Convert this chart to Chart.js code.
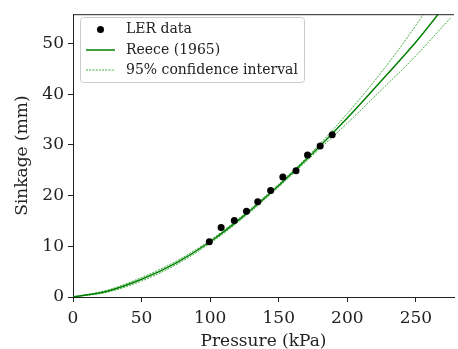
<!DOCTYPE html>
<html>
<head>
<meta charset="utf-8">
<script src="https://cdn.jsdelivr.net/npm/chart.js@4/dist/chart.umd.min.js"></script>
<style>
html,body{margin:0;padding:0;background:#fff;}
#wrap{width:458px;height:349px;position:relative;}
</style>
</head>
<body>
<div id="wrap"><canvas id="c" width="458" height="349"></canvas></div>
<script>
// Measured data (LER)
const lerPressure = [99.4, 108.0, 117.6, 126.5, 134.7, 144.1, 153.0, 162.6, 171.0, 180.2, 189.0];
const lerSinkage  = [10.9, 13.7, 15.1, 16.9, 18.8, 21.0, 23.7, 24.9, 28.0, 29.8, 32.0];

// Reece (1965) fitted curve and 95% band
const curvePressure = [0, 25, 50, 75, 100, 125, 150, 175, 200, 225, 250, 275];
const reeceSinkage  = [0, 1.15, 3.5, 6.7, 10.9, 16.1, 22.0, 28.4, 35.3, 42.7, 50.3, 58.8];
const upperSinkage  = [0, 1.35, 3.85, 7.05, 11.2, 16.4, 22.3, 28.8, 36.2, 44.4, 53.6, 64.0];
const lowerSinkage  = [0, 0.95, 3.15, 6.35, 10.6, 15.8, 21.7, 28.0, 34.3, 40.9, 47.6, 55.0];

const xTicks = [0, 50, 100, 150, 200, 250];
const yTicks = [0, 10, 20, 30, 40, 50];
const xLimits = [0, 277.8];
const yLimits = [0, 55.8];

const labels = ['LER data', 'Reece (1965)', '95% confidence interval'];

const pts = (xs, ys) => xs.map((x, i) => ({x: x, y: ys[i]}));

const FONT = "'DejaVu Serif', serif";
const GREEN = '#008000';
const CI = 'rgba(45,165,45,0.9)';

const topSpine = {
  id: 'topSpine',
  afterDraw(chart) {
    const {ctx, chartArea: a} = chart;
    ctx.save();
    ctx.strokeStyle = '#222';
    ctx.lineWidth = 1;
    ctx.beginPath();
    ctx.moveTo(a.left, a.top + 0.5);
    ctx.lineTo(a.right, a.top + 0.5);
    ctx.stroke();
    ctx.restore();
  }
};

const innerLegend = {
  id: 'innerLegend',
  afterDraw(chart) {
    const ctx = chart.ctx;
    const x0 = 80.5, y0 = 17.5, w = 224, h = 65, r = 3;
    ctx.save();
    ctx.fillStyle = 'rgba(255,255,255,0.8)';
    ctx.strokeStyle = '#cccccc';
    ctx.lineWidth = 1;
    ctx.beginPath();
    ctx.moveTo(x0 + r, y0);
    ctx.lineTo(x0 + w - r, y0);
    ctx.arcTo(x0 + w, y0, x0 + w, y0 + r, r);
    ctx.lineTo(x0 + w, y0 + h - r);
    ctx.arcTo(x0 + w, y0 + h, x0 + w - r, y0 + h, r);
    ctx.lineTo(x0 + r, y0 + h);
    ctx.arcTo(x0, y0 + h, x0, y0 + h - r, r);
    ctx.lineTo(x0, y0 + r);
    ctx.arcTo(x0, y0, x0 + r, y0, r);
    ctx.closePath();
    ctx.fill();
    ctx.stroke();

    const rows = [29.5, 50, 70];
    ctx.fillStyle = '#000';
    ctx.beginPath();
    ctx.arc(100.5, rows[0], 3.5, 0, Math.PI * 2);
    ctx.fill();
    ctx.strokeStyle = GREEN;
    ctx.lineWidth = 1.5;
    ctx.beginPath();
    ctx.moveTo(86, rows[1]);
    ctx.lineTo(115, rows[1]);
    ctx.stroke();
    ctx.strokeStyle = CI;
    ctx.lineWidth = 1;
    ctx.setLineDash([2, 1.2]);
    ctx.beginPath();
    ctx.moveTo(86, rows[2]);
    ctx.lineTo(115, rows[2]);
    ctx.stroke();
    ctx.setLineDash([]);

    ctx.fillStyle = '#222';
    ctx.font = '14px ' + FONT;
    ctx.textBaseline = 'middle';
    ctx.textAlign = 'left';
    labels.forEach((t, i) => ctx.fillText(t, 126, rows[i]));
    ctx.restore();
  }
};

new Chart(document.getElementById('c'), {
  type: 'scatter',
  data: {
    datasets: [
      {
        label: labels[2] + ' upper',
        data: pts(curvePressure, upperSinkage),
        showLine: true, pointRadius: 0,
        borderColor: CI, borderWidth: 1, borderDash: [2, 1.2],
        cubicInterpolationMode: 'monotone', order: 3
      },
      {
        label: labels[2] + ' lower',
        data: pts(curvePressure, lowerSinkage),
        showLine: true, pointRadius: 0,
        borderColor: CI, borderWidth: 1, borderDash: [2, 1.2],
        cubicInterpolationMode: 'monotone', order: 3
      },
      {
        label: labels[1],
        data: pts(curvePressure, reeceSinkage),
        showLine: true, pointRadius: 0,
        borderColor: GREEN, borderWidth: 1.5,
        cubicInterpolationMode: 'monotone', order: 2
      },
      {
        label: labels[0],
        data: pts(lerPressure, lerSinkage),
        showLine: false,
        pointRadius: 3.5, pointBackgroundColor: '#000', pointBorderWidth: 0,
        order: 1
      }
    ]
  },
  options: {
    responsive: false,
    animation: false,
    layout: {padding: {top: 10, right: 0, left: 0, bottom: 0}},
    plugins: {legend: {display: false}, tooltip: {enabled: false}},
    scales: {
      x: {
        type: 'linear', min: xLimits[0], max: xLimits[1],
        afterBuildTicks: s => { s.ticks = xTicks.map(v => ({value: v})); },
        afterFit: s => { s.height = 52; },
        grid: {drawOnChartArea: false, drawTicks: true, tickLength: 5, tickColor: '#222'},
        border: {color: '#222', width: 1},
        ticks: {color: '#222', font: {family: FONT, size: 17}, padding: 6, maxRotation: 0},
        title: {display: true, text: 'Pressure (kPa)', color: '#222', font: {family: FONT, size: 17}, padding: {top: 0, bottom: -3}}
      },
      y: {
        type: 'linear', min: yLimits[0], max: yLimits[1],
        afterBuildTicks: s => { s.ticks = yTicks.map(v => ({value: v})); },
        afterFit: s => { s.width = 73; },
        grid: {drawOnChartArea: false, drawTicks: true, tickLength: 5, tickColor: '#222'},
        border: {color: '#222', width: 1},
        ticks: {color: '#222', font: {family: FONT, size: 17}, padding: 4},
        title: {display: true, text: 'Sinkage (mm)', color: '#222', font: {family: FONT, size: 17}, padding: {top: 12, bottom: 0}}
      }
    }
  },
  plugins: [topSpine, innerLegend]
});
</script>
</body>
</html>
